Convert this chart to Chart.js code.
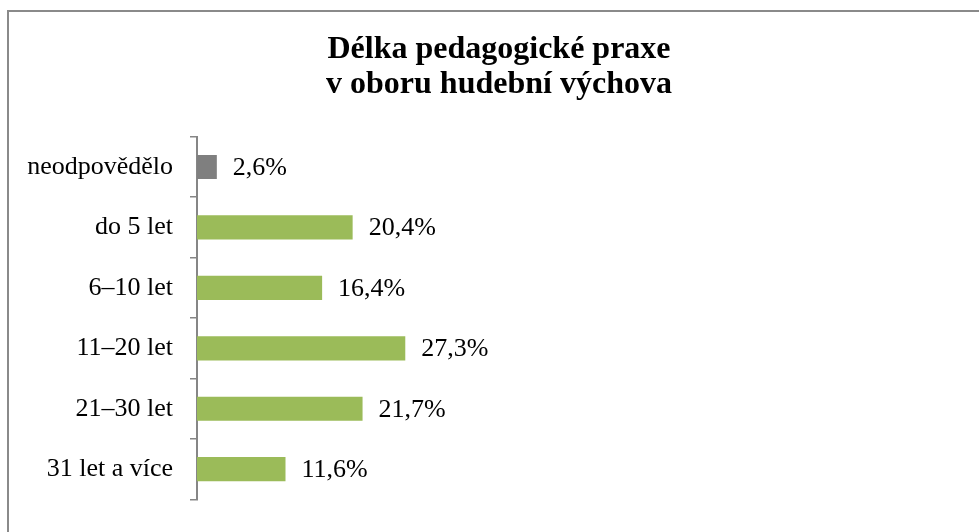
<!DOCTYPE html>
<html lang="cs">
<head>
<meta charset="utf-8">
<title>Délka pedagogické praxe</title>
<script src="https://cdn.jsdelivr.net/npm/chart.js@4.4.1/dist/chart.umd.min.js"></script>
<style>
  html, body {
    margin: 0;
    padding: 0;
    background: #fff;
    overflow: hidden;
  }
  #frame {
    position: absolute;
    left: 7px;
    top: 10px;
    width: 990px;
    height: 540px;
    border-left: 2px solid #8a8a8a;
    border-top: 2px solid #8a8a8a;
    box-sizing: border-box;
    pointer-events: none;
  }
  #my-chart {
    position: absolute;
    left: 0;
    top: 0;
  }
</style>
</head>
<body>
<canvas id="my-chart" width="979" height="532"></canvas>
<div id="frame"></div>
<script>
'use strict';

let categories = ['neodpovědělo', 'do 5 let', '6–10 let', '11–20 let', '21–30 let', '31 let a více'];
let shares = [2.6, 20.4, 16.4, 27.3, 21.7, 11.6];
let titleLines = ['Délka pedagogické praxe', 'v oboru hudební výchova'];

let grayBar = '#7f7f7f';
let greenBar = '#9bbb59';
let axisGray = '#868686';
let serif = '"Liberation Serif", "Times New Roman", serif';

function formatShare(value) {
  return value.toFixed(1).replace('.', ',') + '%';
}

// labels to the right of each bar
let barLabels = {
  id: 'barLabels',
  afterDatasetsDraw(chart) {
    let ctx = chart.ctx;
    let meta = chart.getDatasetMeta(0);
    ctx.save();
    ctx.font = '26px ' + serif;
    ctx.fillStyle = '#000';
    ctx.textAlign = 'left';
    ctx.textBaseline = 'middle';
    for (let i = 0; i < meta.data.length; i++) {
      let bar = meta.data[i];
      ctx.fillText(formatShare(shares[i]), bar.x + 16, bar.y + 1);
    }
    ctx.restore();
  }
};

let canvasElem = document.getElementById('my-chart');

let myObj = {
  type: 'bar',
  data: {
    labels: categories,
    datasets: [{
      data: shares,
      backgroundColor: function (c) {
        return c.dataIndex === 0 ? grayBar : greenBar;
      },
      borderWidth: 0,
      categoryPercentage: 1,
      barPercentage: 0.4
    }]
  },
  options: {
    indexAxis: 'y',
    responsive: false,
    animation: false,
    layout: {
      padding: { left: 19, right: 0, top: 0, bottom: 24 }
    },
    plugins: {
      legend: { display: false },
      tooltip: { enabled: false },
      title: {
        display: true,
        text: titleLines,
        color: '#000',
        font: { family: serif, size: 32, weight: 'bold', lineHeight: 1.09 },
        padding: { top: 32, bottom: 35 }
      }
    },
    scales: {
      x: {
        display: false,
        min: 0,
        max: 102.5
      },
      y: {
        afterFit: function (scale) {
          scale.width = 178;
        },
        border: { display: true, color: axisGray, width: 2 },
        grid: {
          display: true,
          offset: true,
          drawOnChartArea: false,
          drawTicks: true,
          tickLength: 7,
          tickColor: axisGray,
          lineWidth: 1.5
        },
        ticks: {
          color: '#000',
          padding: 17,
          font: { family: serif, size: 26 }
        }
      }
    }
  },
  plugins: [barLabels]
};

new Chart(canvasElem, myObj);
</script>
</body>
</html>
